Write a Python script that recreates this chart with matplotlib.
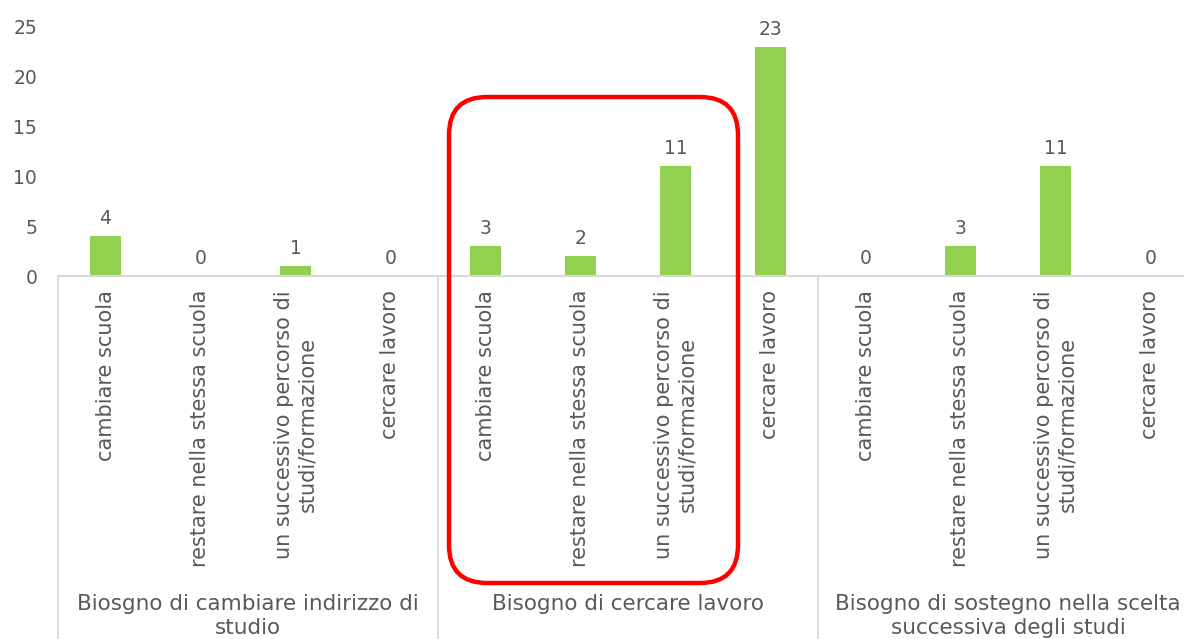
import matplotlib
matplotlib.use("Agg")
import matplotlib.pyplot as plt
from matplotlib.patches import FancyBboxPatch
from matplotlib.lines import Line2D

categories = ["cambiare scuola", "restare nella stessa scuola",
              "un successivo percorso di\nstudi/formazione", "cercare lavoro"] * 3
values = [4, 0, 1, 0, 3, 2, 11, 23, 0, 3, 11, 0]
groups = ["Biosgno di cambiare indirizzo di\nstudio",
          "Bisogno di cercare lavoro",
          "Bisogno di sostegno nella scelta\nsuccessiva degli studi"]
yticks = [0, 5, 10, 15, 20, 25]

GREEN = "#92D050"
TXT = "#595959"
GRID = "#D9D9D9"

plt.rcParams["font.family"] = ["DejaVu Sans"]

W, H = 1184, 639
fig = plt.figure(figsize=(W / 100, H / 100), dpi=100)
# axes spans a little past the right edge, like the cropped original
ax = fig.add_axes([58 / W, (H - 276) / H, 1140 / W, 249 / H])

x = list(range(len(values)))
ax.bar(x, values, width=0.32, color=GREEN, zorder=2)
ax.set_xlim(-0.5, len(values) - 0.5)
ax.set_ylim(0, 25)

for s in ["top", "right", "left"]:
    ax.spines[s].set_visible(False)
ax.spines["bottom"].set_color(GRID)
ax.spines["bottom"].set_linewidth(1.5)

ax.set_yticks(yticks)
ax.set_yticklabels([str(t) for t in yticks], fontsize=13.5, color=TXT)
ax.tick_params(axis="y", length=0, pad=15)
ax.set_xticks([])

# value labels
for xi, v in zip(x, values):
    ax.annotate(str(v), (xi, v), xytext=(0, 6), textcoords="offset points",
                ha="center", va="bottom", fontsize=13.5, color=TXT)

# rotated category labels
for xi, c in zip(x, categories):
    ax.annotate(c, (xi, 0), xycoords=("data", "axes fraction"),
                xytext=(0, -10), textcoords="offset points",
                ha="center", va="top", rotation=90, multialignment="center",
                fontsize=15, color=TXT, linespacing=1.2)

# group labels and separators
for g, name in enumerate(groups):
    ax.annotate(name, (g * 4 + 1.5, 0), xycoords=("data", "axes fraction"),
                xytext=(0, -229), textcoords="offset points",
                ha="center", va="top", multialignment="center",
                fontsize=15.5, color=TXT, linespacing=1.25)
for sep in [-0.5, 3.5, 7.5, 11.5]:
    ax.add_line(Line2D([sep, sep], [0, -1.5], color=GRID, lw=1.2,
                       transform=ax.get_xaxis_transform(), clip_on=False))

# red highlight box (in inches from the bottom-left corner)
box = FancyBboxPatch((4.49, (H - 583) / 100), 2.89, 4.86,
                     boxstyle="round,pad=0,rounding_size=0.38",
                     transform=fig.dpi_scale_trans, fill=False,
                     edgecolor="#FF0000", lw=3.2)
fig.patches.append(box)

fig.savefig("out.png", dpi=100)
